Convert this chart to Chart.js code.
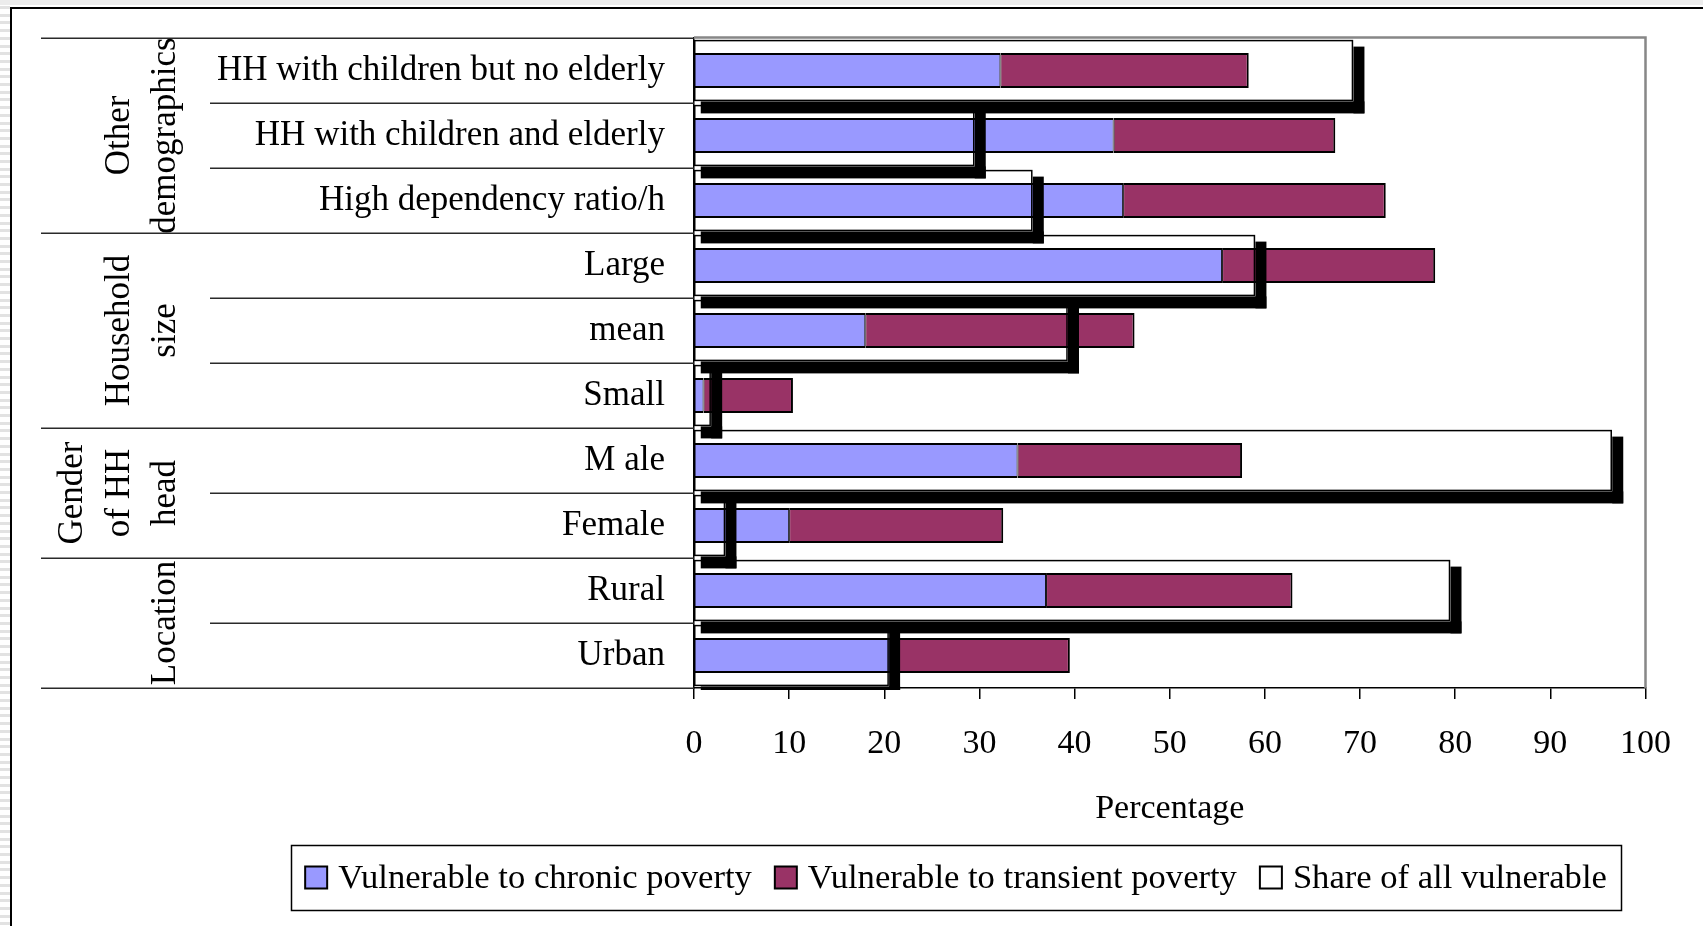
<!DOCTYPE html>
<html>
<head>
<meta charset="utf-8">
<title>Vulnerability by household characteristics</title>
<script src="https://cdn.jsdelivr.net/npm/chart.js@4.4.1/dist/chart.umd.min.js"></script>
<style>
  html, body { margin: 0; padding: 0; background: #fff; overflow: hidden; }
  #wrap { position: absolute; left: 0; top: 0; width: 1703px; height: 926px; }
</style>
</head>
<body>
<div id="wrap"><canvas id="chart" width="1703" height="926"></canvas></div>
<script>
// ---- data ----
const categories = [
  "HH with children but no elderly",
  "HH with children and elderly",
  "High dependency ratio/h",
  "Large",
  "mean",
  "Small",
  "M ale",
  "Female",
  "Rural",
  "Urban"
];
// percentage vulnerable to chronic poverty
const chronic   = [32.2, 44.1, 45.1, 55.5, 18.0, 1.0, 34.0, 10.0, 37.0, 21.0];
// additional percentage vulnerable to transient poverty (stacked on chronic)
const transient = [26.1, 23.3, 27.6, 22.4, 28.3, 9.4, 23.6, 22.5, 25.9, 18.5];
// share of all vulnerable households falling in each category
const shareAll  = [69.2, 29.4, 35.5, 58.9, 39.2, 1.7, 96.4, 3.2, 79.4, 20.4];

// category groups, listed top to bottom, with the label lines of each
const groupLabels = [["Other", "demographics"], ["Household", "size"], ["Gender", "of HH", "head"], ["Location"]];
const groupSizes  = [3, 3, 2, 2];

const seriesNames = ["Vulnerable to chronic poverty", "Vulnerable to transient poverty", "Share of all vulnerable"];
const xTickStep = 10;
const xMax = 100;

// ---- styling ----
const SERIF = '"Liberation Serif", "Times New Roman", serif';
Chart.defaults.font.family = SERIF;
Chart.defaults.font.size = 34;
Chart.defaults.color = '#000';

const CHRONIC_COLOR = '#9999ff';
const TRANSIENT_COLOR = '#993366';

// page frame: grey strip on top, ruled margin on the left, black frame line
const pageFrame = {
  id: 'pageFrame',
  beforeDraw(chart) {
    const { ctx, width, height } = chart;
    ctx.save();
    ctx.fillStyle = '#fff';
    ctx.fillRect(0, 0, width, height);
    ctx.fillStyle = '#ececec';
    ctx.fillRect(0, 0, width, 5);
    ctx.fillStyle = '#e2e2e2';
    for (let y = 6; y < height; y += 7.7) ctx.fillRect(0, Math.round(y), 10, 3);
    ctx.strokeStyle = '#000';
    ctx.lineWidth = 2;
    ctx.beginPath();
    ctx.moveTo(width, 8);
    ctx.lineTo(11, 8);
    ctx.lineTo(11, height);
    ctx.stroke();
    ctx.restore();
  }
};

// grey top/right edges of the plot area
const plotEdges = {
  id: 'plotEdges',
  beforeDatasetsDraw(chart) {
    const { ctx, chartArea: a } = chart;
    ctx.save();
    ctx.strokeStyle = '#878787';
    ctx.lineWidth = 2.5;
    ctx.beginPath();
    ctx.moveTo(a.left, a.top - 0.5);
    ctx.lineTo(a.right, a.top - 0.5);
    ctx.lineTo(a.right, a.bottom);
    ctx.stroke();
    ctx.restore();
  }
};

// outlined "share" bars with their heavy drop shadow
const shareBars = {
  id: 'shareBars',
  afterDatasetsDraw(chart) {
    const { ctx, chartArea: a } = chart;
    const meta = chart.getDatasetMeta(2);
    ctx.save();
    ctx.beginPath();
    ctx.rect(a.left, a.top - 2, a.right - a.left, a.bottom - a.top + 4);
    ctx.clip();
    meta.data.forEach(bar => {
      const { x, y, base, height } = bar.getProps(['x', 'y', 'base', 'height'], true);
      const top = y - height / 2;
      const bottom = y + height / 2;
      ctx.fillStyle = '#000';
      ctx.fillRect(x + 1, top + 6, 11, bottom - top + 7);
      ctx.fillRect(base + 6, bottom + 1, x - base + 6, 12);
      ctx.strokeStyle = '#000';
      ctx.lineWidth = 1.5;
      ctx.strokeRect(base, top, x - base, height);
    });
    ctx.restore();
  }
};

// group separators and rotated group titles left of the category labels
const categoryGroups = {
  id: 'categoryGroups',
  afterDraw(chart) {
    const { ctx, chartArea: a } = chart;
    const ys = chart.scales.y;
    const band = ys.getPixelForValue(1) - ys.getPixelForValue(0);
    const edge = i => ys.getPixelForValue(i) - band / 2;
    ctx.save();
    ctx.strokeStyle = '#2a2a2a';
    ctx.lineWidth = 1.5;
    const hline = (x0, y) => {
      ctx.beginPath();
      ctx.moveTo(x0, Math.round(y) + 0.25);
      ctx.lineTo(a.left, Math.round(y) + 0.25);
      ctx.stroke();
    };
    let start = 0;
    groupSizes.forEach((n, g) => {
      hline(41, edge(start));
      for (let k = 1; k < n; k++) hline(210, edge(start + k));
      const cy = (edge(start) + edge(start + n)) / 2;
      const lines = groupLabels[g];
      lines.forEach((txt, j) => {
        const bx = 175 - (lines.length - 1 - j) * 46.5;
        ctx.save();
        ctx.translate(bx, cy);
        ctx.rotate(-Math.PI / 2);
        ctx.fillStyle = '#000';
        ctx.textAlign = 'center';
        ctx.textBaseline = 'alphabetic';
        ctx.font = '35px ' + SERIF;
        ctx.fillText(txt, 0, 0);
        ctx.restore();
      });
      start += n;
    });
    hline(41, edge(start));
    ctx.restore();
  }
};

// boxed legend below the axis title
const boxedLegend = {
  id: 'boxedLegend',
  afterDraw(chart) {
    const { ctx } = chart;
    const box = { left: 291, top: 845, right: 1621, bottom: 910 };
    const swatches = [CHRONIC_COLOR, TRANSIENT_COLOR, '#fff'];
    ctx.save();
    ctx.strokeStyle = '#000';
    ctx.lineWidth = 1.5;
    ctx.strokeRect(box.left + 0.5, box.top + 0.5, box.right - box.left, box.bottom - box.top);
    ctx.font = '34.6px ' + SERIF;
    const sq = 22, gapText = 11, gapItem = 23;
    const widths = seriesNames.map(t => ctx.measureText(t).width);
    const total = widths.reduce((s, w) => s + w, 0) + seriesNames.length * (sq + gapText) + (seriesNames.length - 1) * gapItem;
    let x = (box.left + box.right) / 2 - total / 2;
    const cy = (box.top + box.bottom) / 2;
    seriesNames.forEach((t, i) => {
      ctx.fillStyle = swatches[i];
      ctx.fillRect(x, cy - sq / 2, sq, sq);
      ctx.lineWidth = 2;
      ctx.strokeStyle = '#000';
      ctx.strokeRect(x, cy - sq / 2, sq, sq);
      ctx.fillStyle = '#000';
      ctx.textAlign = 'left';
      ctx.textBaseline = 'middle';
      ctx.fillText(t, x + sq + gapText, cy + 1);
      x += sq + gapText + widths[i] + gapItem;
    });
    ctx.restore();
  }
};

new Chart(document.getElementById('chart'), {
  type: 'bar',
  data: {
    labels: categories,
    datasets: [
      {
        label: seriesNames[0],
        data: chronic,
        backgroundColor: CHRONIC_COLOR,
        borderColor: '#000',
        borderWidth: { top: 2, bottom: 2, left: 0, right: 1 },
        borderSkipped: false,
        stack: 'vulnerable',
        grouped: false,
        categoryPercentage: 1,
        barPercentage: 0.54
      },
      {
        label: seriesNames[1],
        data: transient,
        backgroundColor: TRANSIENT_COLOR,
        borderColor: '#000',
        borderWidth: { top: 2, bottom: 2, left: 1, right: 2 },
        borderSkipped: false,
        stack: 'vulnerable',
        grouped: false,
        categoryPercentage: 1,
        barPercentage: 0.54
      },
      {
        label: seriesNames[2],
        data: shareAll,
        backgroundColor: 'rgba(255,255,255,0)',
        borderWidth: 0,
        stack: 'share',
        grouped: false,
        categoryPercentage: 1,
        barPercentage: 0.92
      }
    ]
  },
  options: {
    indexAxis: 'y',
    responsive: false,
    animation: false,
    devicePixelRatio: 1,
    events: [],
    layout: { padding: { top: 38, right: 57.5, bottom: 0, left: 0 } },
    plugins: {
      legend: { display: false },
      tooltip: { enabled: false },
      title: { display: false }
    },
    scales: {
      x: {
        type: 'linear',
        position: 'bottom',
        min: 0,
        max: xMax,
        stacked: true,
        ticks: { stepSize: xTickStep, padding: 25, color: '#000', font: { size: 34 } },
        grid: { drawOnChartArea: false, drawTicks: true, tickLength: 11, color: '#000', lineWidth: 1.5 },
        border: { display: true, color: '#000', width: 1.5 },
        title: { display: true, text: 'Percentage', color: '#000', font: { size: 34 }, padding: { top: 0, bottom: 97 } },
        afterFit(scale) { scale.height = 238; }
      },
      y: {
        type: 'category',
        offset: true,
        stacked: true,
        ticks: { padding: 29, color: '#000', font: { size: 35 }, crossAlign: 'near', autoSkip: false },
        grid: { display: false, drawTicks: false },
        border: { display: true, color: '#000', width: 1.5 },
        afterFit(scale) {
          scale.width = 694;
          scale.paddingTop = 0;
          scale.paddingBottom = 0;
        }
      }
    }
  },
  plugins: [pageFrame, plotEdges, shareBars, categoryGroups, boxedLegend]
});
</script>
</body>
</html>
